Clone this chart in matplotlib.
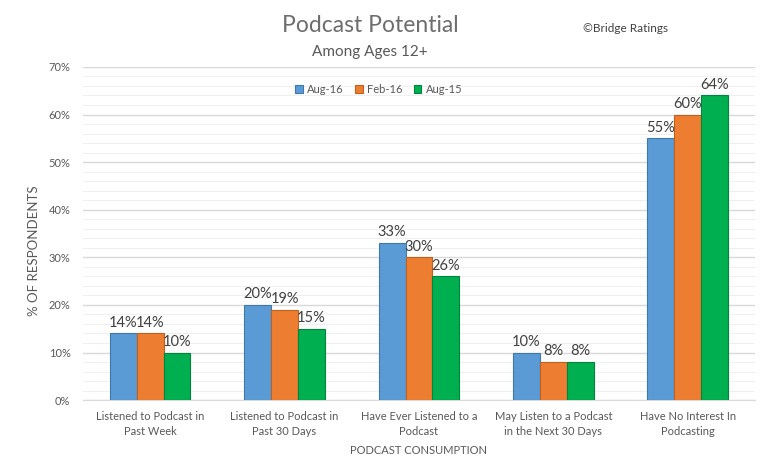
import numpy as np
from matplotlib import pyplot as plt
from matplotlib.ticker import MultipleLocator, PercentFormatter

############### data ###############
categories = ['Listened to Podcast in\nPast Week', 'Listened to Podcast in\nPast 30 Days',
              'Have Ever Listened to a\nPodcast', 'May Listen to a Podcast\nin the Next 30 Days',
              'Have No Interest In\nPodcasting']
series_names = ['Aug-16', 'Feb-16', 'Aug-15']
aug16 = [14, 20, 33, 10, 55]
feb16 = [14, 19, 30, 8, 60]
aug15 = [10, 15, 26, 8, 64]
colors = ['#5B9BD5', '#ED7D31', '#00B050']
edges = ['#3F78AE', '#C0601E', '#00853C']

############### plot ###############
plt.rcParams['font.family'] = ['Lato', 'DejaVu Sans']
fig = plt.figure(figsize=(7.68, 4.68), dpi=100)
ax = fig.add_axes([0.108, 0.145, 0.875, 0.712])

x = np.arange(len(categories))
w = 0.2
for i, (vals, name) in enumerate(zip([aug16, feb16, aug15], series_names)):
    pos = x + (i - 1) * w
    ax.bar(pos, vals, w, color=colors[i], edgecolor=edges[i], linewidth=0.8,
           label=name, zorder=3)
    for px, v in zip(pos, vals):
        ax.text(px, v + 0.8, f'{v}%', ha='center', va='bottom', fontsize=10.5,
                color='#404040', zorder=4)

ax.set_xlim(-0.5, len(categories) - 0.5)
ax.set_ylim(0, 70)
ax.yaxis.set_major_locator(MultipleLocator(10))
ax.yaxis.set_minor_locator(MultipleLocator(2))
ax.yaxis.set_major_formatter(PercentFormatter(decimals=0))
ax.grid(axis='y', which='major', color='#D9D9D9', linewidth=1.0, zorder=0)
ax.grid(axis='y', which='minor', color='#F0F0F0', linewidth=0.8, zorder=0)
for s in ['top', 'right', 'left']:
    ax.spines[s].set_visible(False)
ax.spines['bottom'].set_color('#D9D9D9')
ax.tick_params(axis='both', which='both', length=0, labelsize=8, colors='#595959')
ax.tick_params(axis='y', pad=9)
ax.tick_params(axis='x', pad=8)
ax.set_xticks(x)
ax.set_xticklabels(categories, fontsize=8, color='#595959', linespacing=1.4)
ax.set_xlabel('PODCAST CONSUMPTION', fontsize=8, color='#595959', labelpad=6)
ax.set_ylabel('% OF RESPONDENTS', fontsize=9.5, color='#595959')
ax.yaxis.set_label_coords(-0.064, 0.45)

leg = ax.legend(loc='upper center', bbox_to_anchor=(0.44, 0.98), ncol=3, frameon=False,
                fontsize=8, handlelength=0.7, handleheight=0.7, columnspacing=1.0,
                handletextpad=0.4)
for t in leg.get_texts():
    t.set_color('#595959')

fig.text(0.482, 0.945, 'Podcast Potential', ha='center', va='center', fontsize=16.5,
         color='#6E6E6E')
fig.text(0.482, 0.888, 'Among Ages 12+', ha='center', va='center', fontsize=11, color='#595959')
fig.text(0.815, 0.94, '©Bridge Ratings', ha='center', va='center', fontsize=8.5, color='#404040')

fig.savefig('out.png', dpi=100)
